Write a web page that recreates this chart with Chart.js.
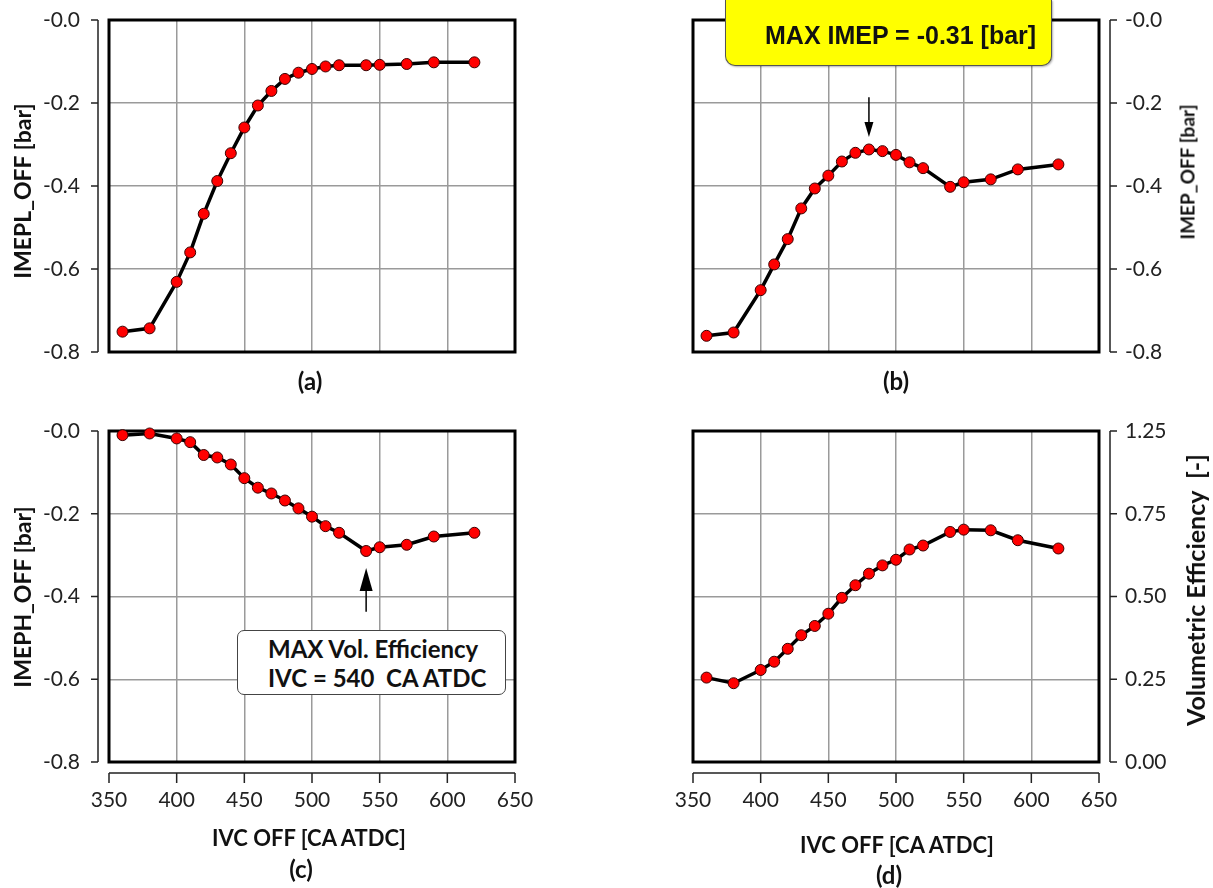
<!DOCTYPE html>
<html>
<head>
<meta charset="utf-8">
<script src="https://cdn.jsdelivr.net/npm/chart.js@4.4.1/dist/chart.umd.min.js"></script>
<style>
  html, body { margin: 0; padding: 0; background: #fff; }
  body { width: 1213px; height: 888px; position: relative; overflow: hidden; font-family: Lato, "Open Sans", sans-serif; }
  canvas { position: absolute; }
  .t { position: absolute; font-weight: bold; font-size: 22px; color: #111; white-space: nowrap; transform: translate(-50%, -50%); }
  .rot { transform: translate(-50%, -50%) rotate(-90deg); }
  .cap { font-size: 24px; }
  #maxImep {
    position: absolute; left: 725px; top: 0px; width: 327px; height: 66px;
    background: #ffff00; border: 1.5px solid #555; border-top: none;
    border-radius: 0 0 10px 10px; box-shadow: 1px 1px 2px rgba(0,0,0,0.3);
    font-family: "Liberation Sans", Arial, sans-serif; font-weight: bold; font-size: 25px;
    line-height: 70px; padding-left: 39px; box-sizing: border-box; color: #111;
  }
  #maxVol {
    position: absolute; left: 237px; top: 630px; width: 269px; height: 65px;
    background: #fff; border: 1.5px solid #444; border-radius: 7px; box-sizing: border-box;
    font-weight: bold; font-size: 24px; line-height: 29px; padding: 3px 0 0 30px; color: #111;
  }
</style>
</head>
<body>
<canvas id="pa" width="606" height="420" style="left:0;top:0"></canvas>
<canvas id="pb" width="607" height="420" style="left:606px;top:0"></canvas>
<canvas id="pc" width="606" height="468" style="left:0;top:420px"></canvas>
<canvas id="pd" width="607" height="468" style="left:606px;top:420px"></canvas>

<div class="t rot" style="left:22px;top:191px;font-size:23px">IMEPL_OFF [bar]</div>
<div class="t rot" style="left:22px;top:597px;font-size:23px">IMEPH_OFF [bar]</div>
<div class="t rot" style="left:1187px;top:172px;font-size:19px">IMEP_OFF [bar]</div>
<div class="t rot" style="left:1195px;top:590px;font-size:25px">Volumetric Efficiency&nbsp;&nbsp;[-]</div>
<div class="t" style="left:309px;top:837px">IVC OFF [CA ATDC]</div>
<div class="t" style="left:897px;top:844px">IVC OFF [CA ATDC]</div>
<div class="t cap" style="left:310px;top:380px">(a)</div>
<div class="t cap" style="left:896px;top:380px">(b)</div>
<div class="t cap" style="left:301px;top:868px">(c)</div>
<div class="t cap" style="left:889px;top:874px">(d)</div>

<div id="maxImep">MAX IMEP = -0.31 [bar]</div>
<div id="maxVol">MAX Vol. Efficiency<br>IVC = 540&nbsp;&nbsp;CA ATDC</div>

<script>
// IVC OFF [CA ATDC]
const ivc = [360, 380, 400, 410, 420, 430, 440, 450, 460, 470, 480, 490, 500, 510, 520, 540, 550, 570, 590, 620];
// (a) IMEPL_OFF [bar]
const imeplOff = [-0.751, -0.743, -0.631, -0.560, -0.467, -0.388, -0.321, -0.259, -0.206, -0.171,
                  -0.142, -0.127, -0.118, -0.112, -0.109, -0.109, -0.108, -0.106, -0.102, -0.102];
// (b) IMEP_OFF [bar]
const imepOff = [-0.761, -0.753, -0.651, -0.589, -0.528, -0.454, -0.406, -0.375, -0.341, -0.320,
                 -0.312, -0.316, -0.325, -0.343, -0.357, -0.402, -0.391, -0.384, -0.360, -0.348];
// (c) IMEPH_OFF [bar]
const imephOff = [-0.010, -0.006, -0.018, -0.027, -0.058, -0.064, -0.081, -0.114, -0.137, -0.151,
                  -0.168, -0.187, -0.207, -0.230, -0.246, -0.290, -0.281, -0.275, -0.255, -0.246];
// (d) Volumetric Efficiency [-]
const volEff = [0.255, 0.238, 0.278, 0.303, 0.342, 0.383, 0.411, 0.448, 0.496, 0.534,
                0.569, 0.594, 0.611, 0.642, 0.654, 0.695, 0.702, 0.700, 0.670, 0.645];

const xTickLabels = ['350', '400', '450', '500', '550', '600', '650'];
const imepTickLabels = ['-0.8', '-0.6', '-0.4', '-0.2', '-0.0'];
const volTickLabels = ['0.00', '0.25', '0.50', '0.75', '1.25'];

const FONT = 'Lato';
const TICK_COLOR = '#222';

// plot frame, detached axis lines and annotation arrows
const frameAxes = {
  id: 'frameAxes',
  beforeDatasetsDraw(chart) {
    const { ctx, chartArea: a } = chart;
    ctx.save();
    ctx.lineWidth = 3;
    ctx.strokeStyle = '#000';
    ctx.strokeRect(a.left, a.top, a.right - a.left, a.bottom - a.top);
    ctx.restore();
  },
  afterDraw(chart, args, opts) {
    const { ctx, chartArea: a } = chart;
    const x = chart.scales.x, y = chart.scales.y;
    ctx.save();
    ctx.strokeStyle = '#222';
    ctx.fillStyle = '#000';
    ctx.lineWidth = 1.5;
    ctx.beginPath();
    const side = y.position === 'left' ? -1 : 1;
    const ax = (side < 0 ? a.left : a.right) + side * 11;
    ctx.moveTo(ax, y.top);
    ctx.lineTo(ax, y.bottom);
    y.ticks.forEach(t => {
      const p = y.getPixelForValue(t.value);
      ctx.moveTo(ax, p);
      ctx.lineTo(ax + side * 7, p);
    });
    if (x.options.ticks.display) {
      const ay = a.bottom + 11;
      ctx.moveTo(x.left, ay);
      ctx.lineTo(x.right, ay);
      x.ticks.forEach(t => {
        const p = x.getPixelForValue(t.value);
        ctx.moveTo(p, ay);
        ctx.lineTo(p, ay + 10);
      });
    }
    ctx.stroke();

    const arr = opts.arrow;
    if (arr) {
      const px = x.getPixelForValue(arr.at);
      const p0 = y.getPixelForValue(arr.from);
      const p1 = y.getPixelForValue(arr.to);
      const dir = Math.sign(p1 - p0);
      ctx.strokeStyle = '#000';
      ctx.beginPath();
      ctx.moveTo(px, p0);
      ctx.lineTo(px, p1 - dir * arr.head);
      ctx.stroke();
      ctx.beginPath();
      ctx.moveTo(px, p1);
      ctx.lineTo(px - arr.w / 2, p1 - dir * arr.head);
      ctx.lineTo(px + arr.w / 2, p1 - dir * arr.head);
      ctx.closePath();
      ctx.fill();
    }
    ctx.restore();
  }
};

function makePanel(id, cfg) {
  const isLeft = cfg.side === 'left';
  return new Chart(document.getElementById(id), {
    type: 'line',
    data: {
      datasets: [{
        data: ivc.map((v, i) => ({ x: v, y: cfg.values[i] })),
        borderColor: '#000',
        borderWidth: 3.5,
        tension: 0,
        pointRadius: 5.5,
        pointBackgroundColor: '#ff0000',
        pointBorderColor: '#3a0000',
        pointBorderWidth: 1,
        clip: false
      }]
    },
    options: {
      responsive: false,
      animation: false,
      devicePixelRatio: 1,
      layout: { padding: cfg.pad },
      plugins: {
        legend: { display: false },
        tooltip: { enabled: false },
        frameAxes: { arrow: cfg.arrow || null }
      },
      scales: {
        x: {
          type: 'linear',
          min: 350,
          max: 650,
          ticks: {
            stepSize: 50,
            display: cfg.xLabels,
            padding: 26,
            color: TICK_COLOR,
            font: { family: FONT, size: 21 },
            callback: (v, i) => xTickLabels[i]
          },
          grid: { color: '#9a9a9a', lineWidth: 1.5, drawTicks: false },
          border: { display: false },
          afterFit: s => { s.height = cfg.xh; s.paddingLeft = 0; s.paddingRight = 0; }
        },
        y: {
          type: 'linear',
          position: cfg.side,
          min: cfg.min,
          max: cfg.max,
          ticks: {
            stepSize: cfg.step,
            padding: isLeft ? 29 : 26,
            color: TICK_COLOR,
            font: { family: FONT, size: 21 },
            callback: (v, i) => cfg.tickLabels[i]
          },
          grid: { color: '#9a9a9a', lineWidth: 1.5, drawTicks: false },
          border: { display: false },
          afterFit: s => { s.width = cfg.yw; s.paddingTop = 0; s.paddingBottom = 0; }
        }
      }
    },
    plugins: [frameAxes]
  });
}

makePanel('pa', {
  values: imeplOff, side: 'left', min: -0.8, max: 0, step: 0.2, tickLabels: imepTickLabels,
  xLabels: false, xh: 0, yw: 109, pad: { left: 0, top: 20, right: 91, bottom: 68 }
});
makePanel('pb', {
  values: imepOff, side: 'right', min: -0.8, max: 0, step: 0.2, tickLabels: imepTickLabels,
  xLabels: false, xh: 0, yw: 114, pad: { left: 87, top: 20, right: 0, bottom: 68 },
  arrow: { at: 480, from: -0.186, to: -0.282, head: 15, w: 9 }
});
makePanel('pc', {
  values: imephOff, side: 'left', min: -0.8, max: 0, step: 0.2, tickLabels: imepTickLabels,
  xLabels: true, xh: 126, yw: 109, pad: { left: 0, top: 11, right: 91, bottom: 0 },
  arrow: { at: 540, from: -0.437, to: -0.331, head: 23, w: 13 }
});
makePanel('pd', {
  values: volEff, side: 'right', min: 0, max: 1, step: 0.25, tickLabels: volTickLabels,
  xLabels: true, xh: 126, yw: 114, pad: { left: 87, top: 11, right: 0, bottom: 0 }
});
</script>
</body>
</html>
